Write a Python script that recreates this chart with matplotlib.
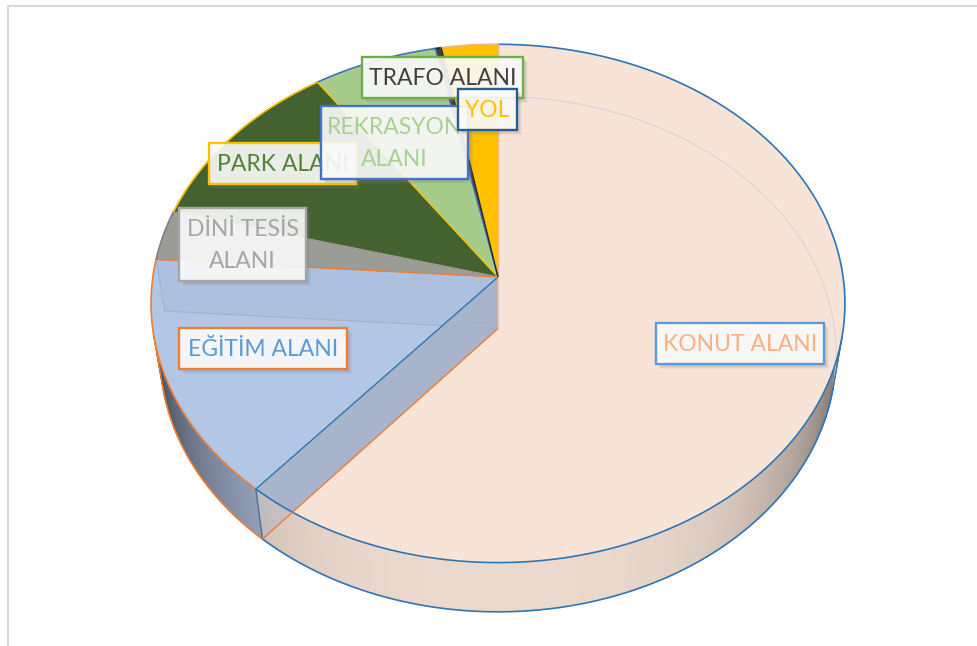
import numpy as np
import matplotlib
matplotlib.use("Agg")
import matplotlib.pyplot as plt
from matplotlib.patches import Polygon, Rectangle
from matplotlib.colors import to_rgb

# ---------------- data ----------------
categories = ["KONUT ALANI", "EĞİTİM ALANI", "DİNİ TESİS ALANI", "PARK ALANI",
              "REKRASYON ALANI", "TRAFO ALANI", "YOL"]
values = [61.2, 14.9, 3.1, 11.2, 6.4, 0.3, 2.9]
label_texts = ["KONUT ALANI", "EĞİTİM ALANI", "DİNİ TESİS\nALANI", "PARK ALANI",
               "REKRASYON\nALANI", "TRAFO ALANI", "YOL"]

# ---------------- styles ----------------
top_colors = ["#F8E4D7", "#B4C6E6", "#9C9C97", "#44622F", "#A6CC8B", "#3F3F3F", "#FFC000"]
wall_colors = ["#EBD9CD", "#B8C8E8", "#9C9C97", "#44622F", "#A6CC8B", "#3F3F3F", "#FFC000"]
edge_colors = ["#2E75B6", "#ED7D31", "#7F7F7F", "#FFC000", "#4472C4", "#262626", "#F4B183"]
label_text_colors = ["#F4B183", "#5B9BD5", "#A5A5A5", "#548235", "#A9D18E", "#404040", "#FFC000"]
label_edge_colors = ["#5B9BD5", "#ED7D31", "#A5A5A5", "#FFC000", "#4472C4", "#70AD47", "#255E91"]

# label boxes (pixel layout: x0, y0, x1, y1)
label_boxes = [(656, 323, 824, 364), (179, 328, 347, 369), (179, 208, 306, 281),
               (209, 143, 356, 184), (321, 106, 468, 179), (362, 57, 523, 98),
               (458, 89, 517, 130)]

plt.rcParams['font.family'] = ['Lato', 'DejaVu Sans']

# ---------------- projection of a 3D disc ----------------
CX, CY = 498.0, 277.0
F = 2264.0
ELEV = np.deg2rad(48.0)
S, C = np.sin(ELEV), np.cos(ELEV)
DIST = 6.56
H = 0.229


def proj(X, Y, Z):
    d = Y * C - Z * S + DIST
    return CX + F * X / d, CY - F * (Y * S + Z * C) / d


def rim(theta_deg, z, r=1.0):
    t = np.deg2rad(theta_deg)
    return proj(r * np.sin(t), r * np.cos(t), z)


def arc(t0, t1, z, n=None):
    if n is None:
        n = max(3, int(abs(t1 - t0) * 2) + 2)
    ts = np.linspace(t0, t1, n)
    xs, ys = rim(ts, z)
    return np.column_stack([xs, ys])


fig = plt.figure(figsize=(9.78, 6.46), dpi=100)
ax = fig.add_axes([0, 0, 1, 1])
ax.set_xlim(0, 978)
ax.set_ylim(646, 0)
ax.axis('off')

# chart frame
ax.plot([8, 8], [6, 646], color="#D9D9D9", lw=1.5, zorder=0)
ax.plot([8, 978], [6, 6], color="#D9D9D9", lw=1.5, zorder=0)

vals = np.array(values, dtype=float)
bounds = np.concatenate([[0], np.cumsum(vals) / vals.sum() * 360.0])

vis_lim = np.rad2deg(np.arccos(-1.0 / (DIST * C)))   # ~103 deg
vis_lo, vis_hi = vis_lim, 360 - vis_lim

apex_top = proj(0, 0, 0)
apex_bot = proj(0, 0, -H)


def shade(col, theta, k=0.5, pw=3.5):
    f = 1 - k * abs(np.sin(np.deg2rad(theta))) ** pw
    return tuple(np.clip(np.array(to_rgb(col)) * f, 0, 1))


wall_k = [0.5, 0.62, 0.5, 0.5, 0.5, 0.5, 0.5]
wall_pw = [3.5, 2.5, 3.5, 3.5, 3.5, 3.5, 3.5]


def draw_wall(i, zorder):
    t0, t1 = bounds[i], bounds[i + 1]
    a, b = max(t0, vis_lo), min(t1, vis_hi)
    if a >= b:
        return
    ts = np.arange(a, b, 0.5)
    ts = np.append(ts, b)
    for ta, tb in zip(ts[:-1], ts[1:]):
        p = [rim(ta, 0), rim(tb, 0), rim(tb, -H), rim(ta, -H)]
        colr = shade(wall_colors[i], (ta + tb) / 2, wall_k[i], wall_pw[i])
        ax.add_patch(Polygon(p, closed=True, facecolor=colr, edgecolor=colr,
                             lw=0.5, zorder=zorder))


# walls
for i in range(len(values)):
    draw_wall(i, 1)

# tops
top_patches = []
for i in range(len(values)):
    pts = np.vstack([[apex_top], arc(bounds[i], bounds[i + 1], 0)])
    p = Polygon(pts, closed=True, facecolor=top_colors[i],
                edgecolor=top_colors[i], lw=0.5, zorder=2)
    ax.add_patch(p)
    top_patches.append(p)

# transparent effect: radial face of the second slice seen through the first one
t_a = bounds[1]
face_a = [apex_top, rim(t_a, 0), rim(t_a, -H), apex_bot]
fa = Polygon(face_a, closed=True, facecolor="#A0AFCB", edgecolor="none",
             alpha=0.9, zorder=3)
ax.add_patch(fa)
fa.set_clip_path(top_patches[0])

wall0 = np.vstack([arc(vis_lo, bounds[1], 0), arc(bounds[1], vis_lo, -H)])
wall0_clip = Polygon(wall0, closed=True, facecolor="none", edgecolor="none")
ax.add_patch(wall0_clip)
fa2 = Polygon(face_a, closed=True, facecolor="#A0AFCB", edgecolor="none",
              alpha=0.35, zorder=3)
ax.add_patch(fa2)
fa2.set_clip_path(wall0_clip)

t_b = bounds[2]
face_b = [apex_top, rim(t_b, 0), rim(t_b, -H), apex_bot]
fb = Polygon(face_b, closed=True, facecolor="#8A9AB8", edgecolor="none",
             alpha=0.12, zorder=3)
ax.add_patch(fb)
fb.set_clip_path(top_patches[1])
ax.plot([rim(t_b, -H)[0], apex_bot[0]], [rim(t_b, -H)[1], apex_bot[1]],
        color="#A3B1CF", lw=0.8, zorder=3)
ax.plot([rim(t_b, 0)[0], rim(t_b, -H)[0]], [rim(t_b, 0)[1], rim(t_b, -H)[1]],
        color="#A3B1CF", lw=0.8, zorder=3)

# back bottom rim seen through the large slice
bb = arc(2, vis_lo, -H)
ax.plot(bb[:, 0], bb[:, 1], color="#DCD6D8", lw=1.0, zorder=3)

# ---------------- outlines ----------------
for i in range(len(values)):
    t0, t1 = bounds[i], bounds[i + 1]
    a = arc(t0, t1, 0)
    ax.plot(a[:, 0], a[:, 1], color=edge_colors[i], lw=1.2, zorder=5)
    lo, hi = max(t0, vis_lo), min(t1, vis_hi)
    if lo < hi:
        bt = arc(lo, hi, -H)
        ax.plot(bt[:, 0], bt[:, 1], color=edge_colors[i], lw=1.2, zorder=5)

# silhouettes
for t, col in [(vis_lo, edge_colors[0]), (vis_hi, edge_colors[1])]:
    p0, p1 = rim(t, 0), rim(t, -H)
    ax.plot([p0[0], p1[0]], [p0[1], p1[1]], color=col, lw=1.0, zorder=5)

# radial top edges
rad_cols = ["#F4B183", "#2E75B6", "#ED7D31", "#9C9C97", "#FFC000", "#4472C4", "#262626"]
for k in range(len(values)):
    t = bounds[k]
    p = rim(t, 0)
    ax.plot([apex_top[0], p[0]], [apex_top[1], p[1]], color=rad_cols[k], lw=1.0,
            zorder=5)
# corner edge and bottom radial edge of the first boundary
pc0, pc1 = rim(t_a, 0), rim(t_a, -H)
ax.plot([pc0[0], pc1[0]], [pc0[1], pc1[1]], color="#4A6FA5", lw=1.0, zorder=5)
ax.plot([apex_bot[0], pc1[0]], [apex_bot[1], pc1[1]], color="#ED7D31", lw=1.0, zorder=5)
ax.plot([apex_top[0], apex_bot[0]], [apex_top[1], apex_bot[1]], color="#F4C9A8",
        lw=1.0, zorder=5)

# ---------------- labels ----------------
fs = 16.5
for k, (txt, box) in enumerate(zip(label_texts, label_boxes)):
    x0, y0, x1, y1 = box
    w, h = x1 - x0, y1 - y0
    z = 10 + k * 3
    for off, al in [(5, 0.08), (4, 0.10), (3, 0.14)]:
        ax.add_patch(Rectangle((x0 + off, y0 + off), w, h, facecolor="#7F7F7F",
                               edgecolor="none", alpha=al, zorder=z))
    ax.add_patch(Rectangle((x0, y0), w, h, facecolor="white", alpha=0.88,
                           edgecolor="none", zorder=z + 1))
    ax.add_patch(Rectangle((x0, y0), w, h, facecolor="none",
                           edgecolor=label_edge_colors[k], lw=1.7, zorder=z + 1))
    ax.text((x0 + x1) / 2, (y0 + y1) / 2 + 1, txt, ha='center', va='center',
            multialignment='center', fontsize=fs, color=label_text_colors[k],
            linespacing=1.6, zorder=z + 2)

fig.savefig("out.png", dpi=100)
